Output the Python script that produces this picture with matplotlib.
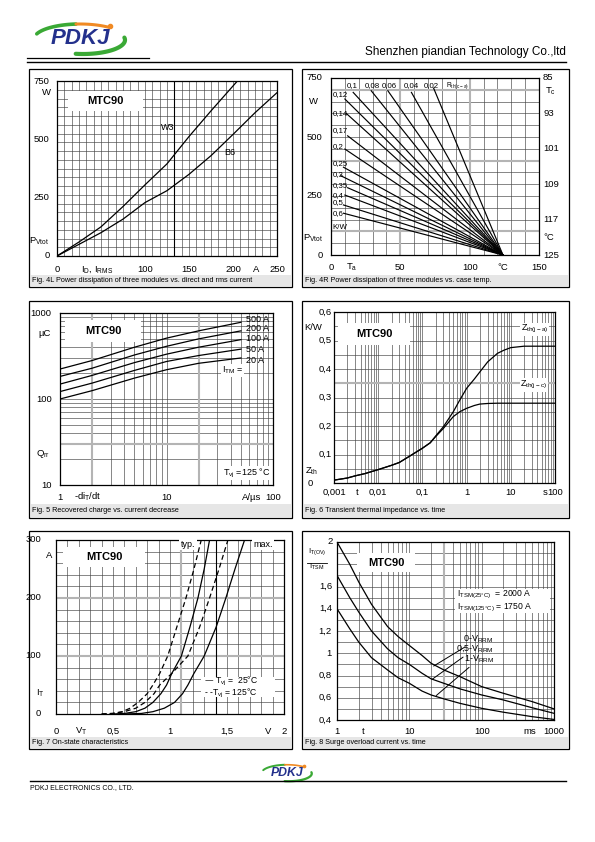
import numpy as np
import matplotlib
matplotlib.use('Agg')
import matplotlib.pyplot as plt
from matplotlib.patches import Rectangle
from matplotlib.transforms import offset_copy

plt.rcParams['font.family'] = ['Liberation Sans', 'DejaVu Sans']
plt.rcParams['mathtext.default'] = 'regular'

W, H = 595, 842
FS = 6.8      # tick label size
CAP = 5.2     # caption size

# ---------------- data ----------------
# Fig 4L  power dissipation vs current
i_w3 = [0, 25, 50, 75, 100, 125, 150, 175, 205]
p_w3 = [0, 60, 125, 212, 305, 395, 512, 622, 750]
i_b6 = [0, 25, 50, 75, 100, 125, 150, 175, 200, 225, 250]
p_b6 = [0, 50, 100, 158, 229, 280, 350, 430, 521, 614, 700]

# Fig 4R  straight lines: start point (Ta, P) -> common end point
rth_top = ['0,1', '0,08', '0,06', '0,04', '0,02']
ta_top = [16, 29, 41, 58, 74]
p_top = [689, 696, 696, 689, 707]
rth_left = ['0,12', '0,14', '0,17', '0,2', '0,25', '0,3', '0,35', '0,4', '0,5', '0,6']
ta_left = [10, 11, 12, 10, 9, 7, 12, 10, 9, 9]
p_left = [661, 600, 505, 449, 372, 336, 285, 254, 212, 177]
lbl_left_p = [680, 598, 529, 461, 388, 341, 296, 254, 221, 175]
lbl_top_ta = [15, 29.5, 42, 58, 72.6]
ta_end, p_end = 124, 0
tc_labels = ['85', '93', '101', '109', '117', '125']
tc_pos = [750, 600, 450, 300, 150, 0]

# Fig 5  recovered charge
didt = [1, 2, 5, 10, 20, 50]
qrr_500 = [223, 280, 400, 510, 620, 780]
qrr_200 = [183, 228, 325, 410, 500, 620]
qrr_100 = [149, 188, 265, 332, 400, 490]
qrr_50 = [122, 153, 215, 273, 320, 380]
qrr_20 = [100, 125, 175, 219, 260, 300]
itm_labels = ['500 A', '200 A', '100 A', '50 A', '20 A']
itm_label_y = [851, 669, 499, 381, 284]

# Fig 6  transient thermal impedance
t_zth = [0.001, 0.002, 0.003, 0.005, 0.01, 0.02, 0.03, 0.05, 0.1, 0.15, 0.2, 0.3,
         0.5, 0.7, 1, 1.5, 2, 3, 5, 7, 10, 20, 100]
zth_jc = [0.010, 0.0175, 0.025, 0.033, 0.047, 0.062, 0.072, 0.093, 0.122, 0.141, 0.163, 0.192,
          0.233, 0.250, 0.262, 0.272, 0.277, 0.279, 0.280, 0.280, 0.280, 0.280, 0.280]
zth_ja = [0.010, 0.0175, 0.025, 0.033, 0.047, 0.062, 0.072, 0.093, 0.122, 0.141, 0.165, 0.198,
          0.250, 0.291, 0.332, 0.365, 0.390, 0.425, 0.455, 0.466, 0.475, 0.480, 0.480]

# Fig 7  on-state characteristics
it_pts = [0, 1, 4, 10, 20, 35, 50, 70, 100, 150, 200, 250, 300]
vt_typ25 = [0.50, 0.60, 0.70, 0.78, 0.85, 0.92, 0.97, 1.016, 1.10, 1.175, 1.245, 1.30, 1.347]
vt_typ125 = [0.40, 0.50, 0.58, 0.65, 0.72, 0.80, 0.85, 0.91, 0.98, 1.06, 1.14, 1.21, 1.274]
vt_max25 = [0.60, 0.75, 0.85, 0.95, 1.04, 1.11, 1.157, 1.21, 1.30, 1.405, 1.49, 1.57, 1.654]
vt_max125 = [0.40, 0.50, 0.60, 0.70, 0.78, 0.86, 0.91, 1.016, 1.157, 1.26, 1.347, 1.43, 1.508]

# Fig 8  surge overload current
t_ms = [1, 1.5, 2, 3, 5, 7, 10, 15, 20, 30, 50, 100, 200, 500, 1000]
sur_0 = [2.0, 1.80, 1.64, 1.44, 1.24, 1.15, 1.07, 0.98, 0.91, 0.85, 0.79, 0.70, 0.64, 0.565, 0.50]
sur_05 = [1.70, 1.50, 1.37, 1.20, 1.04, 0.96, 0.90, 0.82, 0.77, 0.73, 0.68, 0.625, 0.58, 0.51, 0.46]
sur_1 = [1.40, 1.22, 1.10, 0.96, 0.85, 0.78, 0.73, 0.66, 0.625, 0.59, 0.55, 0.505, 0.47, 0.43, 0.405]

# ---------------- page ----------------
fig = plt.figure(figsize=(W / 100, H / 100), dpi=100)
bg = fig.add_axes([0, 0, 1, 1])
bg.set_xlim(0, W)
bg.set_ylim(H, 0)
bg.axis('off')


def draw_logo(cx, cy, s):
    th = np.radians(np.linspace(160, 95, 30))
    bg.plot(cx + 46 * s * np.cos(th), cy - 15 * s * np.sin(th), color='#3aa935', lw=2.6 * s, solid_capstyle='round')
    th = np.radians(np.linspace(95, 50, 30))
    bg.plot(cx + 46 * s * np.cos(th), cy - 15 * s * np.sin(th), color='#f08a24', lw=2.2 * s, solid_capstyle='round')
    bg.plot(cx + 30 * s, cy - 13.5 * s, 'o', color='#f08a24', ms=3 * s)
    th = np.radians(np.linspace(10, -100, 40))
    bg.plot(cx + 3 * s + 42 * s * np.cos(th), cy + 1 * s - 14 * s * np.sin(th), color='#3aa935', lw=3 * s, solid_capstyle='round')
    bg.text(cx, cy, 'PDKJ', fontsize=16 * s, fontweight='bold', style='italic', color='#24318c',
            ha='center', va='center')


draw_logo(80, 39, 1.0)
bg.plot([27, 149], [58, 58], color='k', lw=0.9)
bg.plot([27, 566], [62, 62], color='k', lw=1.0)
bg.text(566, 51.5, 'Shenzhen piandian Technology Co.,ltd', fontsize=8.5, ha='right', va='center')

draw_logo(287, 773, 0.55)
bg.plot([30, 566], [781, 781], color='k', lw=1.0)
bg.text(30, 787.5, 'PDKJ ELECTRONICS CO., LTD.', fontsize=5, ha='left', va='center')


def panel(frame, plot, caption, band):
    fx0, fy0, fx1, fy1 = frame
    bg.add_patch(Rectangle((fx0, fy0), fx1 - fx0, fy1 - fy0, fill=False, lw=0.9, ec='k'))
    bg.add_patch(Rectangle((fx0 + 1.5, band), fx1 - fx0 - 3, fy1 - band - 1.2, fc='#e6e6e6', ec='none'))
    bg.text(fx0 + 3, (band + fy1) / 2, caption, fontsize=CAP, va='center')
    x0, y0, x1, y1 = plot
    ax = fig.add_axes([x0 / W, 1 - y1 / H, (x1 - x0) / W, (y1 - y0) / H])
    return ax


def finish(ax):
    ax.tick_params(which='both', length=0, labelbottom=False, labelleft=False)
    for s in ax.spines.values():
        s.set_linewidth(0.9)


def grid(ax, xs=(), ys=(), c='#444444', lw=0.45):
    for v in xs:
        ax.axvline(v, color=c, lw=lw, zorder=0.5)
    for v in ys:
        ax.axhline(v, color=c, lw=lw, zorder=0.5)


def xt(ax, x, s, dy, **kw):
    tr = offset_copy(ax.get_xaxis_transform(), y=-dy, units='dots')
    ax.text(x, 0, s, transform=tr, ha=kw.pop('ha', 'center'), va='center', fontsize=kw.pop('fontsize', FS), **kw)


def yt(ax, y, s, dx, ha='right', **kw):
    tr = offset_copy(ax.get_yaxis_transform(), x=-dx, units='dots')
    ax.text(0, y, s, transform=tr, ha=ha, va='center', fontsize=kw.pop('fontsize', FS), **kw)


def yr(ax, y, s, dx, **kw):
    tr = offset_copy(ax.get_yaxis_transform(), x=dx, units='dots')
    ax.text(1, y, s, transform=tr, ha='left', va='center', fontsize=kw.pop('fontsize', FS), **kw)


def name_box(ax, x0, y0, x1, y1):
    ax.add_patch(Rectangle((x0, y0), x1 - x0, y1 - y0, transform=bg.transData, fc='white', ec='none', zorder=1))
    ax.text((x0 + x1) / 2, (y0 + y1) / 2, 'MTC90', transform=bg.transData, fontsize=8, fontweight='bold',
            ha='center', va='center', zorder=3)


def log_lines(lo, hi):
    d = 10.0 ** np.arange(lo, hi)
    return (np.arange(1, 10)[None, :] * d[:, None]).ravel()


# ---- Fig 4L ----
ax = panel((29, 69, 292, 287), (57, 81, 277, 256),
           'Fig. 4L Power dissipation of three modules vs. direct and rms current', 275)
ax.set_xlim(0, 250)
ax.set_ylim(0, 750)
grid(ax, np.linspace(0, 250, 31), np.linspace(0, 750, 21))
grid(ax, [133.3], c='k', lw=0.8)
name_box(ax, 68, 91, 143, 111)
ax.plot(i_w3, p_w3, color='k', lw=0.9, zorder=2)
ax.plot(i_b6, p_b6, color='k', lw=0.9, zorder=2)
ax.text(126, 550, 'W3', fontsize=6.5, ha='center', va='center')
ax.text(196, 443, 'B6', fontsize=6.5, ha='center', va='center')
for v in [0, 250, 500, 750]:
    yt(ax, v, str(v), 7.5)
yt(ax, 699, 'W', 11, ha='center')
yt(ax, 64, 'P$_{Vtot}$', 7.5)
for v in [0, 100, 150, 200, 250]:
    xt(ax, v, str(v), 13.4)
xt(ax, 46, 'I$_{D}$, I$_{RMS}$', 13.4)
xt(ax, 226, 'A', 13.4)
finish(ax)

# ---- Fig 4R ----
ax = panel((302, 69, 569, 287), (331, 78, 539, 255),
           'Fig. 4R Power dissipation of three modules vs. case temp.', 275)
ax.set_xlim(0, 150)
ax.set_ylim(0, 750)
grid(ax, np.arange(0, 151, 10), np.arange(0, 751, 50))
grid(ax, [50, 100], [100, 400, 700], c='#b4b4b4', lw=1.5)
for ta0, p0 in zip(ta_top + ta_left, p_top + p_left):
    ax.plot([ta0, ta_end], [p0, p_end], color='k', lw=0.85, zorder=2)
for ta, s in zip(lbl_top_ta, rth_top):
    ax.text(ta, 717, s, fontsize=5.7, ha='center', va='center')
ax.text(83, 717, 'R$_{th(c-a)}$', fontsize=4.8, ha='left', va='center')
for p, s in zip(lbl_left_p, rth_left):
    ax.text(1, p, s, fontsize=5.7, ha='left', va='center')
ax.text(1, 118, 'K/W', fontsize=5.7, ha='left', va='center')
for v in [0, 250, 500, 750]:
    yt(ax, v, str(v), 8.3)
yt(ax, 652, 'W', 17.7, ha='center')
yt(ax, 72, 'P$_{Vtot}$', 8)
for v, s in zip(tc_pos, tc_labels):
    yr(ax, v, s, 4)
yr(ax, 693, 'T$_{c}$', 6)
yr(ax, 76, '°C', 4.5)
for v in [0, 50, 100, 150]:
    xt(ax, v, str(v), 12.7)
xt(ax, 15, 'T$_{a}$', 12.7)
xt(ax, 124, '°C', 12.7)
finish(ax)

# ---- Fig 5 ----
ax = panel((29, 301, 292, 518), (60, 313, 273, 485),
           'Fig. 5 Recovered charge vs. current decrease', 504)
ax.set_xscale('log')
ax.set_yscale('log')
ax.set_xlim(1, 100)
ax.set_ylim(10, 1000)
grid(ax, log_lines(0, 2), log_lines(1, 3))
grid(ax, [2, 20], [30], c='#b4b4b4', lw=1.5)
name_box(ax, 65, 320, 141, 342)
for q in [qrr_500, qrr_200, qrr_100, qrr_50, qrr_20]:
    ax.plot(didt, q, color='k', lw=0.9, zorder=2)
for y, s in zip(itm_label_y, itm_labels):
    ax.text(55.7, y, s, fontsize=6.5, ha='left', va='center')
ax.text(33, 217, 'I$_{TM}$ =', fontsize=6.5, ha='left', va='center',
        bbox=dict(fc='white', ec='none', pad=0.5))
ax.text(34, 13.8, 'T$_{vj}$ =125 °C', fontsize=6.5, ha='left', va='center',
        bbox=dict(fc='white', ec='none', pad=0.5))
for v in [10, 100, 1000]:
    yt(ax, v, str(v), 8.4)
yt(ax, 585, 'µC', 15, ha='center')
yt(ax, 23, 'Q$_{rr}$', 17, ha='center')
for v in [1, 10, 100]:
    xt(ax, v, str(v), 12)
xt(ax, 1.83, '-di$_{T}$/dt', 12)
xt(ax, 63, 'A/µs', 12)
finish(ax)

# ---- Fig 6 ----
ax = panel((302, 301, 569, 518), (334, 312, 555, 483),
           'Fig. 6 Transient thermal impedance vs. time', 504)
ax.set_xscale('log')
ax.set_xlim(0.001, 100)
ax.set_ylim(0, 0.6)
grid(ax, log_lines(-3, 2), np.arange(0, 0.601, 0.05))
grid(ax, [], [0.35], c='#b4b4b4', lw=1.5)
name_box(ax, 338, 323, 410, 345)
ax.plot(t_zth, zth_jc, color='k', lw=0.9, zorder=2)
ax.plot(t_zth, zth_ja, color='k', lw=0.9, zorder=2)
ax.text(35, 0.539, 'Z$_{th(j-a)}$', fontsize=6.5, ha='center', va='center',
        bbox=dict(fc='white', ec='none', pad=0.5))
ax.text(33.5, 0.344, 'Z$_{th(j-c)}$', fontsize=6.5, ha='center', va='center',
        bbox=dict(fc='white', ec='none', pad=0.5))
for v, s in zip([0.1, 0.2, 0.3, 0.4, 0.5, 0.6], ['0,1', '0,2', '0,3', '0,4', '0,5', '0,6']):
    yt(ax, v, s, 2.5)
yt(ax, 0, '0', 26, ha='left')
yt(ax, 0.547, 'K/W', 21, ha='center')
yt(ax, 0.04, 'Z$_{th}$', 22, ha='center')
for v, s in zip([0.001, 0.01, 0.1, 1, 10, 100], ['0,001', '0,01', '0,1', '1', '10', '100']):
    xt(ax, v, s, 9.7)
xt(ax, 0.0033, 't', 9.7)
xt(ax, 60, 's', 9.7)
finish(ax)

# ---- Fig 7 ----
ax = panel((29, 531, 292, 749), (56, 540, 284, 714),
           'Fig. 7 On-state characteristics', 737)
ax.set_xlim(0, 2)
ax.set_ylim(0, 300)
grid(ax, np.arange(0, 2.01, 0.1), np.arange(0, 301, 20))
grid(ax, [1.1], [100, 200], c='#b4b4b4', lw=1.5)
grid(ax, [1.4], c='k', lw=0.8)
name_box(ax, 63, 547, 145, 567)
ax.plot(vt_typ25, it_pts, color='k', lw=0.9, zorder=2)
ax.plot(vt_max25, it_pts, color='k', lw=0.9, zorder=2)
ax.plot(vt_typ125, it_pts, color='k', lw=0.9, ls=(0, (4, 2.5)), zorder=2)
ax.plot(vt_max125, it_pts, color='k', lw=0.9, ls=(0, (4, 2.5)), zorder=2)
ax.text(1.158, 292, 'typ.', fontsize=6.5, ha='center', va='center',
        bbox=dict(fc='white', ec='none', pad=1))
ax.text(1.816, 292, 'max.', fontsize=6.5, ha='center', va='center',
        bbox=dict(fc='white', ec='none', pad=1))
ax.add_patch(Rectangle((1.27, 29), 0.65, 35, fc='white', ec='none', zorder=1))
ax.text(1.30, 55.5, '— T$_{vj}$ =  25°C', fontsize=6.2, ha='left', va='center', zorder=3)
ax.text(1.30, 35.5, '- -T$_{vj}$ = 125°C', fontsize=6.2, ha='left', va='center', zorder=3)
for v in [0, 100, 200, 300]:
    yt(ax, v, str(v), 15)
yt(ax, 274, 'A', 6.5, ha='center')
yt(ax, 36, 'I$_{T}$', 16, ha='center')
for v, s in zip([0, 0.5, 1, 1.5, 2], ['0', '0,5', '1', '1,5', '2']):
    xt(ax, v, s, 17)
xt(ax, 0.22, 'V$_{T}$', 17)
xt(ax, 1.86, 'V', 17)
finish(ax)

# ---- Fig 8 ----
ax = panel((302, 531, 569, 749), (337, 542, 554, 720),
           'Fig. 8 Surge overload current vs. time', 737)
ax.set_xscale('log')
ax.set_xlim(1, 1000)
ax.set_ylim(0.4, 2)
grid(ax, log_lines(0, 3), np.arange(0.4, 2.01, 0.1))
grid(ax, [30], c='#b4b4b4', lw=1.5)
name_box(ax, 357, 553, 415, 572)
ax.plot(t_ms, sur_0, color='k', lw=0.9, zorder=2)
ax.plot(t_ms, sur_05, color='k', lw=0.9, zorder=2)
ax.plot(t_ms, sur_1, color='k', lw=0.9, zorder=2)
ax.add_patch(Rectangle((455, 589), 95, 24, transform=bg.transData, fc='white', ec='none', zorder=1))
ax.text(45.3, 1.525, 'I$_{TSM(25°C)}$  = 2000 A', fontsize=6.2, ha='left', va='center', zorder=3)
ax.text(45.3, 1.415, 'I$_{TSM(125°C)}$ = 1750 A', fontsize=6.2, ha='left', va='center', zorder=3)
ax.annotate('0-V$_{RRM}$', xy=(21.7, 0.885), xytext=(56, 1.13), fontsize=6.5, va='center',
            arrowprops=dict(arrowstyle='-', lw=0.7, shrinkA=0, shrinkB=0))
ax.annotate('0,5-V$_{RRM}$', xy=(20.6, 0.765), xytext=(44, 1.04), fontsize=6.5, va='center',
            arrowprops=dict(arrowstyle='-', lw=0.7, shrinkA=0, shrinkB=0))
ax.annotate('1-V$_{RRM}$', xy=(23.6, 0.62), xytext=(57, 0.95), fontsize=6.5, va='center',
            arrowprops=dict(arrowstyle='-', lw=0.7, shrinkA=0, shrinkB=0))
for v, s in zip([0.4, 0.6, 0.8, 1.0, 1.2, 1.4, 1.6], ['0,4', '0,6', '0,8', '1', '1,2', '1,4', '1,6']):
    yt(ax, v, s, 5)
yt(ax, 2.0, '2', 7, ha='center')
yt(ax, 1.913, 'I$_{T(OV)}$', 20, ha='center', fontsize=5.5)
yt(ax, 1.775, 'I$_{TSM}$', 20, ha='center', fontsize=5.5)
bg.plot([307, 327], [563.3, 563.3], color='k', lw=0.6)
for v in [1, 10, 100, 1000]:
    xt(ax, v, str(v), 11.7)
xt(ax, 2.29, 't', 11.7)
xt(ax, 468, 'ms', 11.7)
finish(ax)

fig.savefig('out.png', dpi=100)
